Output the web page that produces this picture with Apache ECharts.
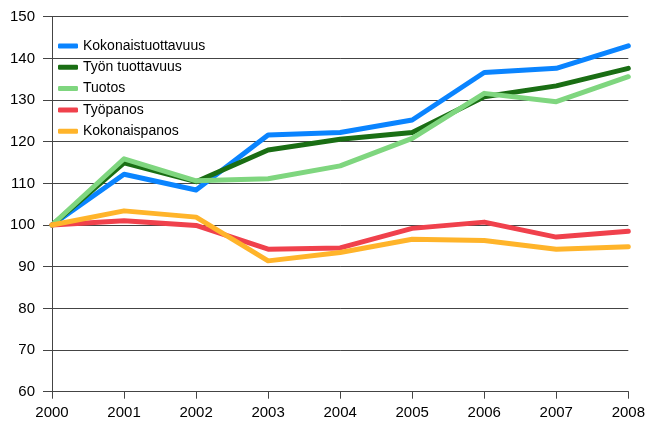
<!DOCTYPE html>
<html><head><meta charset="utf-8">
<script src="https://cdn.jsdelivr.net/npm/echarts@6/dist/echarts.min.js"></script>
<style>html,body{margin:0;padding:0;background:#fff}#c{width:648px;height:421px}</style>
</head><body><div id="c"></div>
<script>
var years = ['2000','2001','2002','2003','2004','2005','2006','2007','2008'];
var names = ['Kokonaistuottavuus','Työn tuottavuus','Tuotos','Työpanos','Kokonaispanos'];
var kokonaistuottavuus = [100,112.2,108.4,121.6,122.2,125.2,136.6,137.6,143.0];
var tyonTuottavuus     = [100,114.9,110.4,118.0,120.6,122.2,130.8,133.4,137.6];
var tuotos             = [100,115.9,110.6,111.1,114.2,120.8,131.6,129.6,135.6];
var tyopanos           = [100,101.0,99.9,94.2,94.5,99.2,100.7,97.1,98.5];
var kokonaispanos      = [100,103.4,101.9,91.4,93.4,96.6,96.3,94.2,94.8];
var colors = ['#0a84ff','#1a6e14','#7fd67f','#f0414c','#ffb42a'];
var seriesData = [kokonaistuottavuus,tyonTuottavuus,tuotos,tyopanos,kokonaispanos];

var chart = echarts.init(document.getElementById('c'));
var font = 'Liberation Sans, Arial, sans-serif';
var series = [];
var order = [2,1,4,3,0];
order.forEach(function(i){
  series.push({
    name: names[i], type: 'line', data: seriesData[i], showSymbol: false, symbol: 'none',
    lineStyle: {width: 5, color: colors[i], join: 'round', cap: 'round'},
    itemStyle: {color: colors[i]}, z: 2 + i, animation: false
  });
});
chart.setOption({
  animation: false,
  color: colors,
  grid: {left: 52, right: 18, top: 16.7, bottom: 29.3, containLabel: false},
  legend: {
    data: names, orient: 'vertical', left: 58, top: 39, padding: 0, itemWidth: 20, itemHeight: 5,
    itemGap: 7.3, icon: 'roundRect',
    textStyle: {fontFamily: font, fontSize: 14, color: '#000'}
  },
  xAxis: {
    type: 'category', data: years, boundaryGap: false,
    axisLine: {lineStyle: {color: '#444', width: 1}},
    axisTick: {show: true, length: 7, lineStyle: {color: '#444'}},
    axisLabel: {fontFamily: font, fontSize: 15, color: '#000', margin: 14},
    splitLine: {show: false}
  },
  yAxis: {
    type: 'value', min: 60, max: 150, interval: 10,
    axisLine: {show: true, lineStyle: {color: '#444', width: 1}},
    axisTick: {show: true, length: 9, lineStyle: {color: '#444'}},
    axisLabel: {fontFamily: font, fontSize: 15, color: '#000', margin: 17},
    splitLine: {show: true, lineStyle: {color: '#444', width: 1}}
  },
  series: series
});
</script></body></html>
